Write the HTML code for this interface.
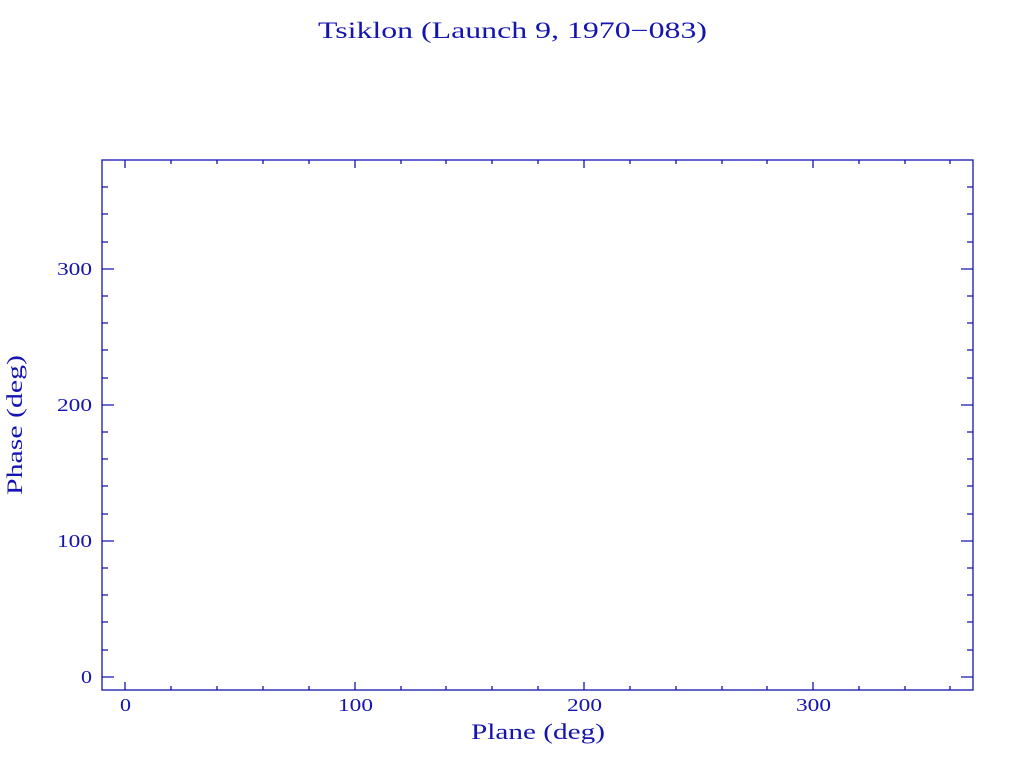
<!DOCTYPE html>
<html><head><style>html,body{margin:0;padding:0;background:#fff;}</style></head>
<body>
<svg width="1024" height="768" xmlns="http://www.w3.org/2000/svg" font-family="Liberation Serif, serif" fill="#1414b0">
<text x="318" y="38" font-size="23" textLength="389" lengthAdjust="spacingAndGlyphs">Tsiklon (Launch 9, 1970−083)</text>
<g stroke="#1414b0" stroke-width="1.3" fill="none">
<rect x="102" y="160" width="871" height="530"/>
<path d="
M125 690v-8M355 690v-8M584 690v-8M813 690v-8
M125 160v8M355 160v8M584 160v8M813 160v8
M102 677h12M102 541h12M102 405h12M102 269h12
M973 677h-12M973 541h-12M973 405h-12M973 269h-12
"/>
<path d="
M171 690v-4M217 690v-4M263 690v-4M309 690v-4M401 690v-4M446 690v-4M492 690v-4M538 690v-4M630 690v-4M676 690v-4M722 690v-4M767 690v-4M859 690v-4M905 690v-4M950 690v-4
M171 160v4M217 160v4M263 160v4M309 160v4M401 160v4M446 160v4M492 160v4M538 160v4M630 160v4M676 160v4M722 160v4M767 160v4M859 160v4M905 160v4M950 160v4
M102 650h6M102 622h6M102 595h6M102 568h6M102 514h6M102 486h6M102 459h6M102 432h6M102 378h6M102 350h6M102 323h6M102 296h6M102 242h6M102 214h6M102 187h6
M973 650h-6M973 622h-6M973 595h-6M973 568h-6M973 514h-6M973 486h-6M973 459h-6M973 432h-6M973 378h-6M973 350h-6M973 323h-6M973 296h-6M973 242h-6M973 214h-6M973 187h-6
"/>
</g>
<g font-size="18">
<text x="120" y="711" textLength="11" lengthAdjust="spacingAndGlyphs">0</text>
<text x="338" y="711" textLength="35" lengthAdjust="spacingAndGlyphs">100</text>
<text x="567" y="711" textLength="35" lengthAdjust="spacingAndGlyphs">200</text>
<text x="796" y="711" textLength="35" lengthAdjust="spacingAndGlyphs">300</text>
<text x="81" y="683" textLength="11" lengthAdjust="spacingAndGlyphs">0</text>
<text x="57" y="547" textLength="35" lengthAdjust="spacingAndGlyphs">100</text>
<text x="57" y="411" textLength="35" lengthAdjust="spacingAndGlyphs">200</text>
<text x="57" y="275" textLength="35" lengthAdjust="spacingAndGlyphs">300</text>
</g>
<text x="471" y="739" font-size="22" textLength="134" lengthAdjust="spacingAndGlyphs">Plane (deg)</text>
<text transform="translate(22,495) rotate(-90)" font-size="22" textLength="140" lengthAdjust="spacingAndGlyphs">Phase (deg)</text>
</svg>
</body></html>
